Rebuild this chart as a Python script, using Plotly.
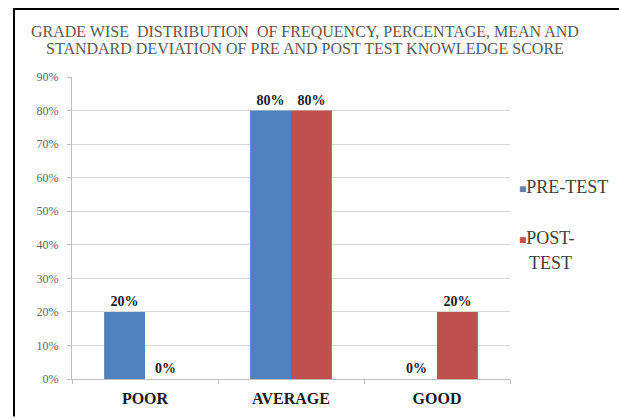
import plotly.graph_objects as go

# Knowledge score grades and the share of subjects in each
grades = ["POOR", "AVERAGE", "GOOD"]
pre_test = [0.20, 0.80, 0.00]
post_test = [0.00, 0.80, 0.20]
y_ticks = [0, 0.1, 0.2, 0.3, 0.4, 0.5, 0.6, 0.7, 0.8, 0.9]
y_tick_labels = ["0%", "10%", "20%", "30%", "40%", "50%", "60%", "70%", "80%", "90%"]

title_lines = [
    "GRADE WISE  DISTRIBUTION  OF FREQUENCY, PERCENTAGE, MEAN AND",
    "STANDARD DEVIATION OF PRE AND POST TEST KNOWLEDGE SCORE",
]

BLUE = "#4F81BD"
RED = "#C0504D"
SERIF = "Liberation Serif"

W, H = 619, 419
L, R, T, B = 72, 109, 77, 36
PW, PH = W - L - R, H - T - B


def px_x(x):
    return (x - L) / PW


def px_y(y):
    return (H - B - y) / PH


def pct(vals):
    return [f"{round(v * 100)}%" for v in vals]


fig = go.Figure()
for name, vals, color in [("PRE-TEST", pre_test, BLUE), ("POST-TEST", post_test, RED)]:
    fig.add_trace(go.Bar(
        x=grades, y=vals, name=name,
        marker=dict(color=color, line=dict(width=0)),
        text=pct(vals), textposition="outside", cliponaxis=False,
        textfont=dict(family=SERIF, size=14, color="#1a1a1a", weight="bold"),
        showlegend=False,
    ))

fig.update_layout(
    width=W, height=H,
    margin=dict(l=L, r=R, t=T, b=B),
    paper_bgcolor="white", plot_bgcolor="white",
    barmode="group", bargap=0.44, bargroupgap=0,
    font=dict(family=SERIF),
)

fig.update_yaxes(
    range=[0, 0.9], tickvals=y_ticks, ticktext=y_tick_labels,
    showgrid=True, gridcolor="#d9d9d9", gridwidth=1,
    showline=True, linecolor="#bfbfbf", linewidth=1,
    ticks="outside", ticklen=4, tickcolor="#bfbfbf",
    tickfont=dict(family=SERIF, size=12, color="#666666"),
    ticklabelstandoff=6, zeroline=False,
)
fig.update_xaxes(
    showline=True, linecolor="#bfbfbf", linewidth=1,
    ticks="outside", tickson="boundaries", ticklen=4, tickcolor="#bfbfbf",
    tickfont=dict(family=SERIF, size=16, color="#1a1a1a", weight="bold"),
    ticklabelstandoff=5,
)

# Two-line heading
for text, ypix in zip(title_lines, [31, 48]):
    fig.add_annotation(
        x=px_x(305), y=px_y(ypix), xref="paper", yref="paper",
        text=text, showarrow=False, xanchor="center", yanchor="middle",
        font=dict(family=SERIF, size=16, color="#5a5a5a"),
    )

# Series key on the right
key_items = [
    (BLUE, "PRE-TEST", 188, None),
    (RED, "POST-", 240, ("TEST", 265)),
]
for color, label, ypix, extra in key_items:
    fig.add_annotation(
        x=px_x(517), y=px_y(ypix), xref="paper", yref="paper",
        text=f"<span style='color:{color};font-size:12px'>■</span>{label}",
        showarrow=False, xanchor="left", yanchor="middle",
        font=dict(family=SERIF, size=18, color="#404040"),
    )
    if extra:
        fig.add_annotation(
            x=px_x(527), y=px_y(extra[1]), xref="paper", yref="paper",
            text=extra[0], showarrow=False, xanchor="left", yanchor="middle",
            font=dict(family=SERIF, size=18, color="#404040"),
        )

# Outer frame: left and top edges
fig.add_shape(type="line", xref="paper", yref="paper",
              x0=px_x(14), x1=px_x(14), y0=px_y(8), y1=px_y(H + 2),
              line=dict(color="black", width=2))
fig.add_shape(type="line", xref="paper", yref="paper",
              x0=px_x(13), x1=px_x(W + 2), y0=px_y(8), y1=px_y(8),
              line=dict(color="black", width=2))

fig.write_html("out.html")
